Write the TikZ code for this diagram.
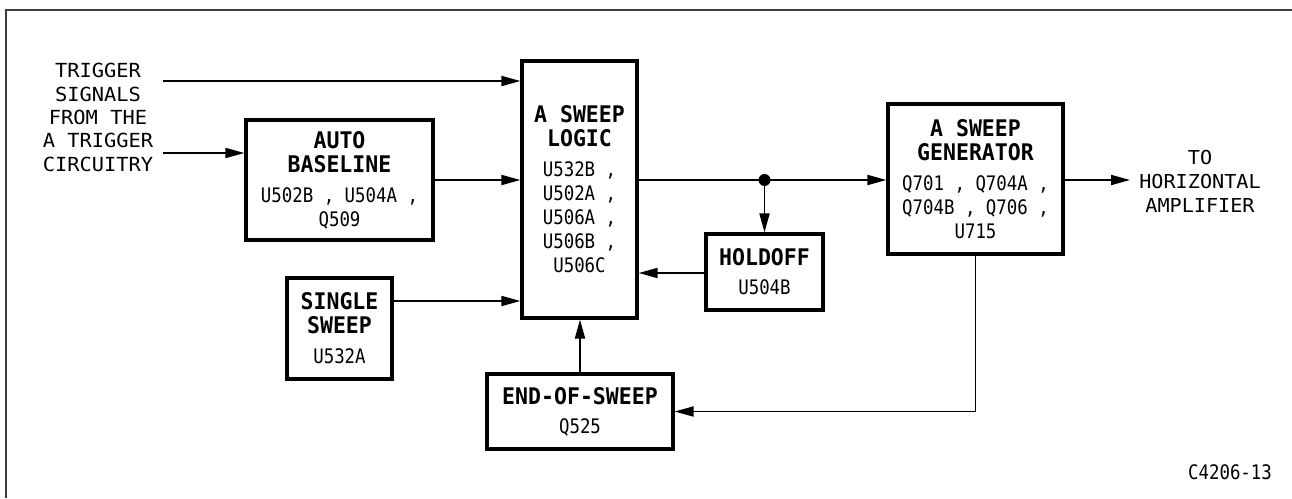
\documentclass[tikz,border=0pt]{standalone}
\usepackage{fontspec}
\newfontfamily\partfam[FakeStretch=0.87]{DejaVu Sans Mono}
\newfontfamily\ttlfam[FakeStretch=0.94]{DejaVu Sans Mono}
\newfontfamily\lblfam[FakeStretch=1.05]{DejaVu Sans Mono}
\usetikzlibrary{arrows.meta}
\newcommand{\partfont}{\partfam\fontsize{20}{24}\selectfont}
\newcommand{\ttlfont}{\ttlfam\bfseries\fontsize{22.9}{25}\selectfont}
\newcommand{\lblfont}{\lblfam\fontsize{19.4}{23.3}\selectfont}
\begin{document}
\begin{tikzpicture}[x=1pt,y=-1pt,
  blk/.style={draw,line width=3.2pt,align=center,inner sep=0pt,font=\partfont},
  conn/.style={line width=1.8pt},
  arr/.style={conn,-{Triangle[length=19pt,width=10pt]}},
  lbl/.style={align=center,inner sep=0pt,font=\lblfont}]
\useasboundingbox (0,0) rectangle (1292,498);
\draw[line width=2.2pt,black!75] (6,498) -- (6,10) -- (1292,10);

\node[blk,minimum width=187pt,minimum height=120pt] (auto) at (339.5,180)
  {{\ttlfont AUTO}\\[0pt]{\ttlfont BASELINE}\\[6pt]U502B , U504A ,\\Q509};
\node[blk,minimum width=115pt,minimum height=257pt] (logic) at (579.5,189.5)
  {{\ttlfont A SWEEP}\\[0pt]{\ttlfont LOGIC}\\[6pt]U532B ,\\U502A ,\\U506A ,\\U506B ,\\U506C};
\node[blk,minimum width=117pt,minimum height=76pt] (hold) at (764.5,272)
  {{\ttlfont HOLDOFF}\\[5pt]U504B};
\node[blk,minimum width=175pt,minimum height=150pt] (gen) at (975.5,179)
  {{\ttlfont A SWEEP}\\[0pt]{\ttlfont GENERATOR}\\[6pt]Q701 , Q704A ,\\Q704B , Q706 ,\\U715};
\node[blk,minimum width=186pt,minimum height=75pt] (eos) at (580,411.5)
  {{\ttlfont END-OF-SWEEP}\\[5pt]Q525};
\node[blk,minimum width=105pt,minimum height=101pt] (single) at (339.5,328.5)
  {{\ttlfont SINGLE}\\[0pt]{\ttlfont SWEEP}\\[6pt]U532A};

\node[lbl] (trig) at (98,117.5) {TRIGGER\\SIGNALS\\FROM THE\\A TRIGGER\\CIRCUITRY};
\node[lbl,font=\lblfam\fontsize{19.2}{24}\selectfont] (horiz) at (1200,181) {TO\\HORIZONTAL\\AMPLIFIER};
\node[inner sep=0pt,font=\partfont] (fig) at (1230,472) {C4206-13};

\coordinate (t1) at (163,81);
\coordinate (t2) at (163,153);
\coordinate (out) at (1130,180);

\draw[arr] (t1) -- (t1 -| logic.west);
\draw[arr] (t2) -- (t2 -| auto.west);
\draw[arr] (auto.east) -- (auto.east -| logic.west);
\draw[arr] (logic.east |- auto.east) -- (gen.west |- auto.east);
\coordinate (dot) at (hold.north |- auto.east);
\fill (dot) circle (6pt);
\draw[arr] (dot) -- (hold.north);
\draw[arr] (hold.west |- 0,273) -- (logic.east |- 0,273);
\draw[arr] (single.east |- 0,301) -- (logic.west |- 0,301);
\draw[arr] (eos.north) -- (eos.north |- logic.south);
\draw[arr] (gen.south) |- (eos.east);
\draw[arr] (gen.east |- out) -- (out);
\end{tikzpicture}
\end{document}
